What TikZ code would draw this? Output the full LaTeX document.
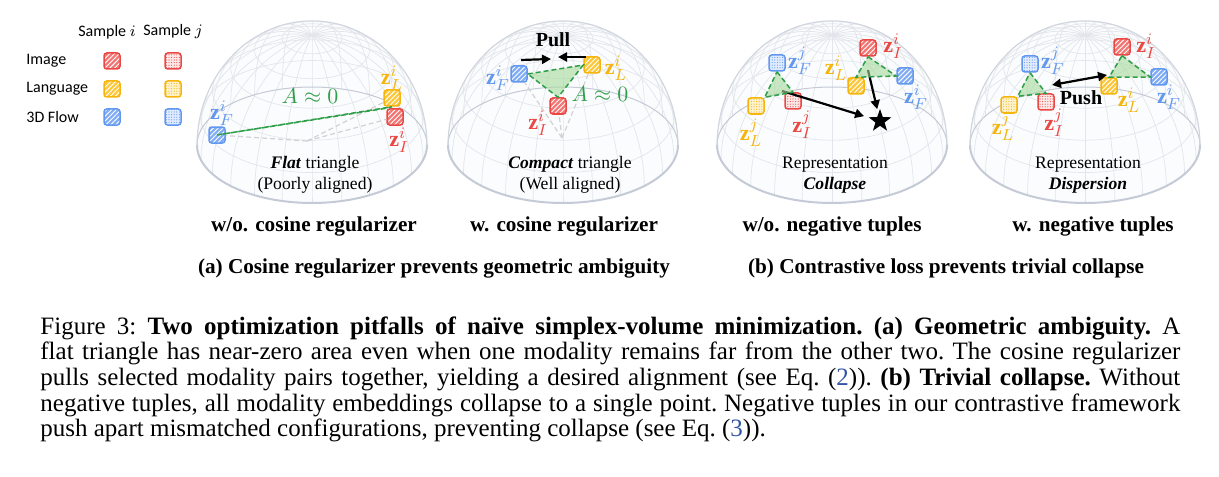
\documentclass[tikz,border=0pt]{standalone}
\usepackage{fontspec}
\setmainfont{Liberation Serif}
\setsansfont{Carlito}
\usetikzlibrary{arrows.meta,patterns.meta,shapes.geometric}

\newlength{\du}
\setlength{\du}{0.5pt}

\definecolor{zred}{RGB}{234,72,68}
\definecolor{zredfill}{RGB}{242,118,116}
\definecolor{zredlight}{RGB}{253,232,232}
\definecolor{zyel}{RGB}{246,181,12}
\definecolor{zyelfill}{RGB}{251,200,60}
\definecolor{zyellight}{RGB}{254,242,205}
\definecolor{zblue}{RGB}{98,152,240}
\definecolor{zbluefill}{RGB}{128,172,245}
\definecolor{zbluelight}{RGB}{224,235,253}
\definecolor{zgreen}{RGB}{46,158,72}
\definecolor{trifill}{RGB}{165,218,155}
\definecolor{gridcolor}{RGB}{226,229,235}
\definecolor{rimcolor}{RGB}{196,202,214}
\definecolor{linkblue}{RGB}{51,84,165}

\tikzset{
  sq/.style={rectangle, rounded corners=1.4pt, minimum size=8pt, inner sep=0pt, line width=0.75pt},
  sqhatch/.style={sq, draw=#1, preaction={fill=#1fill}, pattern={Lines[angle=45,distance=1.7pt,line width=0.45pt]}, pattern color=white},
  sqdots/.style={sq, draw=#1, preaction={fill=#1light}, pattern={Dots[distance=1.3pt,radius=0.28pt]}, pattern color=#1},
  zlab/.style={inner sep=0pt, font=\fontsize{11}{13}\selectfont},
  legtext/.style={inner sep=0pt, font=\sffamily\fontsize{8}{9}\selectfont},
  domecap/.style={inner sep=0pt, align=center, font=\fontsize{8.8}{10.5}\selectfont},
  titletext/.style={inner sep=0pt, font=\bfseries\fontsize{10.6}{12}\selectfont},
  gridline/.style={draw=gridcolor, line width=0.35pt},
  rimback/.style={draw=rimcolor, line width=0.5pt},
  rimfront/.style={draw=rimcolor, line width=1pt},
  outline/.style={draw=rimcolor!80, line width=0.5pt},
  tri/.style={draw=zgreen, dash pattern=on 2.5pt off 1.5pt, line width=0.75pt, fill=trifill, fill opacity=0.6},
  origin/.style={draw=gray!35, dash pattern=on 2.5pt off 1.5pt, line width=0.6pt},
  bigarrow/.style={line width=1.1pt, -{Triangle[length=4.5pt,width=4.5pt]}},
  bothways/.style={line width=1.1pt, {Triangle[length=4.5pt,width=4.5pt]}-{Triangle[length=4.5pt,width=4.5pt]}}
}

\begin{document}
\begin{tikzpicture}[x=\du,y=\du]
\pgftransformyscale{-1.000000}
\useasboundingbox (0,0) rectangle (1219,476);

% four glass domes
\foreach \cx in {312,563,832,1085}{
  \fill[gridcolor!12] plot[domain=0:180,samples=61] ({\cx+115*cos(\x)},{145-124*sin(\x)})
    -- plot[domain=180:360,samples=61] ({\cx+115*cos(\x)},{145-58*sin(\x)}) -- cycle;
  \foreach \lat in {15,30,45,60,75}
    \draw[gridline] plot[domain=0:360,samples=73] ({\cx+115*cos(\lat)*sin(\x)},{145-110*sin(\lat)+58*cos(\lat)*cos(\x)});
  \foreach \lon in {0,15,...,165}
    \draw[gridline] plot[domain=0:180,samples=37] ({\cx+115*cos(\x)*sin(\lon)},{145-110*sin(\x)+58*cos(\x)*cos(\lon)});
  \draw[rimback] plot[domain=0:180,samples=61] ({\cx+115*cos(\x)},{145-58*sin(\x)});
  \draw[rimfront] plot[domain=180:360,samples=61] ({\cx+115*cos(\x)},{145-58*sin(\x)});
  \draw[outline] plot[domain=0:180,samples=61] ({\cx+115*cos(\x)},{145-124*sin(\x)});
}

% legend
\node[legtext] (smpi) at (107,32) {Sample $i$};
\node[legtext] (smpj) at (173,32) {Sample $j$};
\node[legtext,anchor=west] (rowimg) at (26,61) {Image};
\node[legtext,anchor=west] (rowlang) at (26,89) {Language};
\node[legtext,anchor=west] (rowflow) at (26,117) {3D Flow};
\node[sqhatch=zred] (legIi) at (112,61) {};
\node[sqdots=zred] (legIj) at (173,61) {};
\node[sqhatch=zyel] (legLi) at (112,89) {};
\node[sqdots=zyel] (legLj) at (173,89) {};
\node[sqhatch=zblue] (legFi) at (112,117) {};
\node[sqdots=zblue] (legFj) at (173,117) {};

% (a) left: flat triangle
\coordinate (o1) at (307,141);
\node[sqhatch=zblue] (a1F) at (217,135) {};
\node[sqhatch=zyel] (a1L) at (392,98) {};
\node[sqhatch=zred] (a1I) at (395,117) {};
\draw[origin] (o1) -- (a1F);
\draw[origin] (o1) -- (a1I);
\draw[origin] (o1) -- (a1L);
\filldraw[tri] (a1F.center) -- (a1L.south) -- (a1I.north west) -- cycle;
\node[zlab,text=zblue] (a1Flab) at (222,113) {$\mathbf{z}^{i}_{F}$};
\node[zlab,text=zyel] (a1Llab) at (392,78) {$\mathbf{z}^{i}_{L}$};
\node[zlab,text=zred] (a1Ilab) at (399,140) {$\mathbf{z}^{i}_{I}$};
\node[zlab,text=zgreen] (a1area) at (310,96) {$A \approx 0$};
\node[domecap] (a1txt) at (315,174.5) {\textbf{\textit{Flat}} triangle\\(Poorly aligned)};

% (a) right: compact triangle
\coordinate (o2) at (562,138);
\node[sqhatch=zblue] (b2F) at (519,74) {};
\node[sqhatch=zyel] (b2L) at (592,65) {};
\node[sqhatch=zred] (b2I) at (558,106) {};
\draw[origin] (o2) -- (b2F);
\draw[origin] (o2) -- (b2L);
\draw[origin] (o2) -- (b2I);
\filldraw[tri] (b2F.east) -- (b2L.west) -- (b2I.north) -- cycle;
\node[zlab,text=zblue] (b2Flab) at (498,78) {$\mathbf{z}^{i}_{F}$};
\node[zlab,text=zyel] (b2Llab) at (616,68) {$\mathbf{z}^{i}_{L}$};
\node[zlab,text=zred] (b2Ilab) at (538,123) {$\mathbf{z}^{i}_{I}$};
\node[zlab,text=zgreen] (b2area) at (600,94) {$A \approx 0$};
\coordinate (p2a) at (521,60);
\coordinate (p2b) at (551,59);
\coordinate (p2c) at (586,57);
\coordinate (p2d) at (558,57);
\draw[bigarrow] (p2a) -- (p2b);
\draw[bigarrow] (p2c) -- (p2d);
\node[inner sep=0pt,font=\bfseries\fontsize{10}{11}\selectfont] (pull) at (553,40) {Pull};
\node[domecap] (b2txt) at (570,174.5) {\textbf{\textit{Compact}} triangle\\(Well aligned)};

% (b) left: collapse
\node[star,star points=5,star point ratio=2.5,fill=black,inner sep=0pt,minimum size=12pt] (c3star) at (880,121) {};
\node[sqdots=zblue] (c3Fj) at (777,63) {};
\node[sqdots=zyel] (c3Lj) at (756,106) {};
\node[sqdots=zred] (c3Ij) at (793,101) {};
\node[sqhatch=zred] (c3Ii) at (868,48) {};
\node[sqhatch=zyel] (c3Li) at (856,86) {};
\node[sqhatch=zblue] (c3Fi) at (905,76) {};
\coordinate (c3mj) at (782,91);
\coordinate (c3mi) at (868,70);
\draw[bigarrow,shorten >=2pt] (c3mj) -- (c3star);
\draw[bigarrow,shorten >=2pt] (c3mi) -- (c3star);
\filldraw[tri] (c3Fj.south) -- (c3Ij.north) -- (c3Lj.north east) -- cycle;
\filldraw[tri] (c3Ii.south) -- (c3Fi.west) -- (c3Li.north) -- cycle;
\node[zlab,text=zblue] (c3Fjlab) at (800,61) {$\mathbf{z}^{j}_{F}$};
\node[zlab,text=zyel] (c3Ljlab) at (751,133) {$\mathbf{z}^{j}_{L}$};
\node[zlab,text=zred] (c3Ijlab) at (802,125) {$\mathbf{z}^{j}_{I}$};
\node[zlab,text=zred] (c3Iilab) at (893,46) {$\mathbf{z}^{i}_{I}$};
\node[zlab,text=zyel] (c3Lilab) at (836,68) {$\mathbf{z}^{i}_{L}$};
\node[zlab,text=zblue] (c3Filab) at (916,97) {$\mathbf{z}^{i}_{F}$};
\node[domecap] (c3txt) at (835,175.5) {Representation\\\textbf{\textit{Collapse}}};

% (b) right: dispersion
\node[sqdots=zblue] (d4Fj) at (1030,64) {};
\node[sqdots=zyel] (d4Lj) at (1009,105) {};
\node[sqdots=zred] (d4Ij) at (1046,102) {};
\node[sqhatch=zred] (d4Ii) at (1122,47) {};
\node[sqhatch=zyel] (d4Li) at (1109,86) {};
\node[sqhatch=zblue] (d4Fi) at (1159,77) {};
\filldraw[tri] (d4Fj.south) -- (d4Ij.north) -- (d4Lj.north east) -- cycle;
\filldraw[tri] (d4Ii.south) -- (d4Fi.west) -- (d4Li.north) -- cycle;
\coordinate (d4pj) at (1052,85);
\coordinate (d4pi) at (1107,75);
\draw[bothways] (d4pj) -- (d4pi);
\node[inner sep=0pt,font=\bfseries\fontsize{10}{11}\selectfont] (push) at (1081,98) {Push};
\node[zlab,text=zblue] (d4Fjlab) at (1053,61) {$\mathbf{z}^{j}_{F}$};
\node[zlab,text=zyel] (d4Ljlab) at (1003,127) {$\mathbf{z}^{j}_{L}$};
\node[zlab,text=zred] (d4Ijlab) at (1054,123) {$\mathbf{z}^{j}_{I}$};
\node[zlab,text=zred] (d4Iilab) at (1146,46) {$\mathbf{z}^{i}_{I}$};
\node[zlab,text=zyel] (d4Lilab) at (1129,100) {$\mathbf{z}^{i}_{L}$};
\node[zlab,text=zblue] (d4Filab) at (1169,97) {$\mathbf{z}^{i}_{F}$};
\node[domecap] (d4txt) at (1088,175.5) {Representation\\\textbf{\textit{Dispersion}}};

% panel titles
\node[titletext] (t1) at (314,226) {w/o. cosine regularizer};
\node[titletext] (t2) at (564,226) {w. cosine regularizer};
\node[titletext] (t3) at (832,226) {w/o. negative tuples};
\node[titletext] (t4) at (1093,226) {w. negative tuples};
\node[titletext] (capa) at (434,268) {(a) Cosine regularizer prevents geometric ambiguity};
\node[titletext] (capb) at (946,268) {(b) Contrastive loss prevents trivial collapse};

% caption
\node[anchor=north west,inner sep=0pt,text width=570pt,align=justify,font=\fontsize{12.5}{12.85}\selectfont] (fig3) at (40,316)
{\frenchspacing\hyphenpenalty=10000\exhyphenpenalty=10000
Figure 3: \textbf{Two optimization pitfalls of naïve simplex-volume minimization. (a) Geometric ambiguity.} A\linebreak
flat triangle has near-zero area even when one modality remains far from the other two. The cosine regularizer\linebreak
pulls selected modality pairs together, yielding a desired alignment (see Eq.~(\textcolor{linkblue}{2})). \textbf{(b) Trivial collapse.} Without\linebreak
negative tuples, all modality embeddings collapse to a single point. Negative tuples in our contrastive framework\linebreak
push apart mismatched configurations, preventing collapse (see Eq.~(\textcolor{linkblue}{3})).};
\end{tikzpicture}
\end{document}
